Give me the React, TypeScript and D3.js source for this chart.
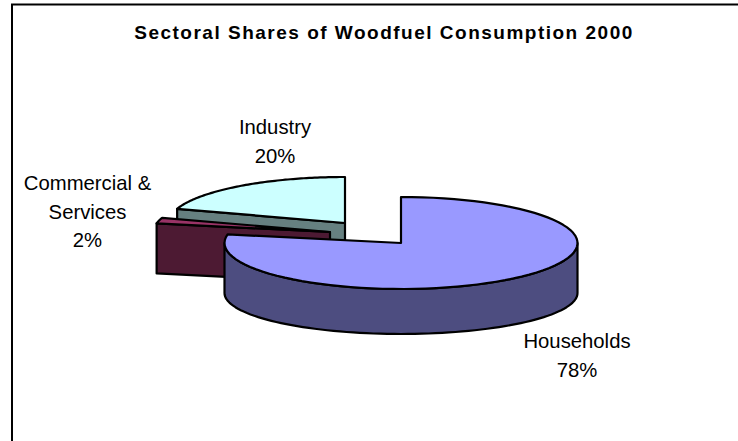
import React from "react";
import * as d3 from "d3";

const categories = ["Households", "Commercial &\nServices", "Industry"];
const shares = [78, 2, 20];
const topColors = ["#9999ff", "#993366", "#ccffff"];
const sideColors = ["#4d4d80", "#4d1a33", "#668080"];
const title = "Sectoral Shares of Woodfuel Consumption 2000";

const W = 738, H = 441;
const rx = 176.5, ry = 46, depth = 50, bottomRy = 41;
const centers = [{ x: 401, y: 243 }, { x: 330, y: 232 }, { x: 345, y: 223 }];
const labelPos = [
  { x: 577, y: 348 },
  { x: 87.5, y: 190 },
  { x: 275, y: 134 },
];

const pie = d3.pie<number>().sort(null).value((d) => d);
const arcs = pie(shares);

type C = { x: number; y: number };
const pt = (c: C, a: number, dy = 0, r = ry): [number, number] => [
  c.x + rx * Math.sin(a),
  c.y - r * Math.cos(a) + dy,
];
const line = d3.line();
const rim = (c: C, a0: number, a1: number, dy = 0, r = ry) =>
  d3.range(0, 81).map((i) => pt(c, a0 + ((a1 - a0) * i) / 80, dy, r));

const wedgePath = (i: number) => {
  const c = centers[i], a = arcs[i];
  return line([[c.x, c.y], ...rim(c, a.startAngle, a.endAngle)])! + "Z";
};
const sidePath = (i: number, a: number) => {
  const c = centers[i];
  const e = pt(c, a);
  return line([[c.x, c.y], e, [e[0], e[1] + depth], [c.x, c.y + depth]])! + "Z";
};
const frontRim = (i: number) => {
  const c = centers[i];
  const a0 = Math.PI / 2, a1 = (Math.PI * 3) / 2;
  return line([...rim(c, a0, a1), ...rim(c, a1, a0, depth, bottomRy)])! + "Z";
};

export default function App() {
  const s = { stroke: "#000", strokeWidth: 2.2, strokeLinejoin: "round" as const };
  const t = { fontFamily: "'Liberation Sans', Arial, sans-serif", fill: "#000" };
  return (
    <svg width={W} height={H} viewBox={`0 0 ${W} ${H}`} style={{ position: "absolute", left: 0, top: 0, background: "#fff" }}>
      <path d={`M12 ${H}V4.5H${W}`} fill="none" stroke="#000" strokeWidth={2} />
      <text x={384} y={39} textAnchor="middle" fontSize={19} fontWeight="bold" letterSpacing={1.5} {...t}>{title}</text>

      <path d={sidePath(2, arcs[2].startAngle)} fill={sideColors[2]} {...s} />
      <path d={wedgePath(2)} fill={topColors[2]} {...s} />
      <path d={sidePath(1, arcs[1].startAngle)} fill={sideColors[1]} {...s} />
      <path d={wedgePath(1)} fill={topColors[1]} {...s} />
      <path d={frontRim(0)} fill={sideColors[0]} {...s} />
      <path d={wedgePath(0)} fill={topColors[0]} {...s} />

      {categories.map((c, i) => {
        const lines = [...c.split("\n"), `${shares[i]}%`];
        return (
          <text key={c} textAnchor="middle" fontSize={20.3} {...t}>
            {lines.map((l, j) => (
              <tspan key={j} x={labelPos[i].x} y={labelPos[i].y + j * 28.5}>{l}</tspan>
            ))}
          </text>
        );
      })}
    </svg>
  );
}
